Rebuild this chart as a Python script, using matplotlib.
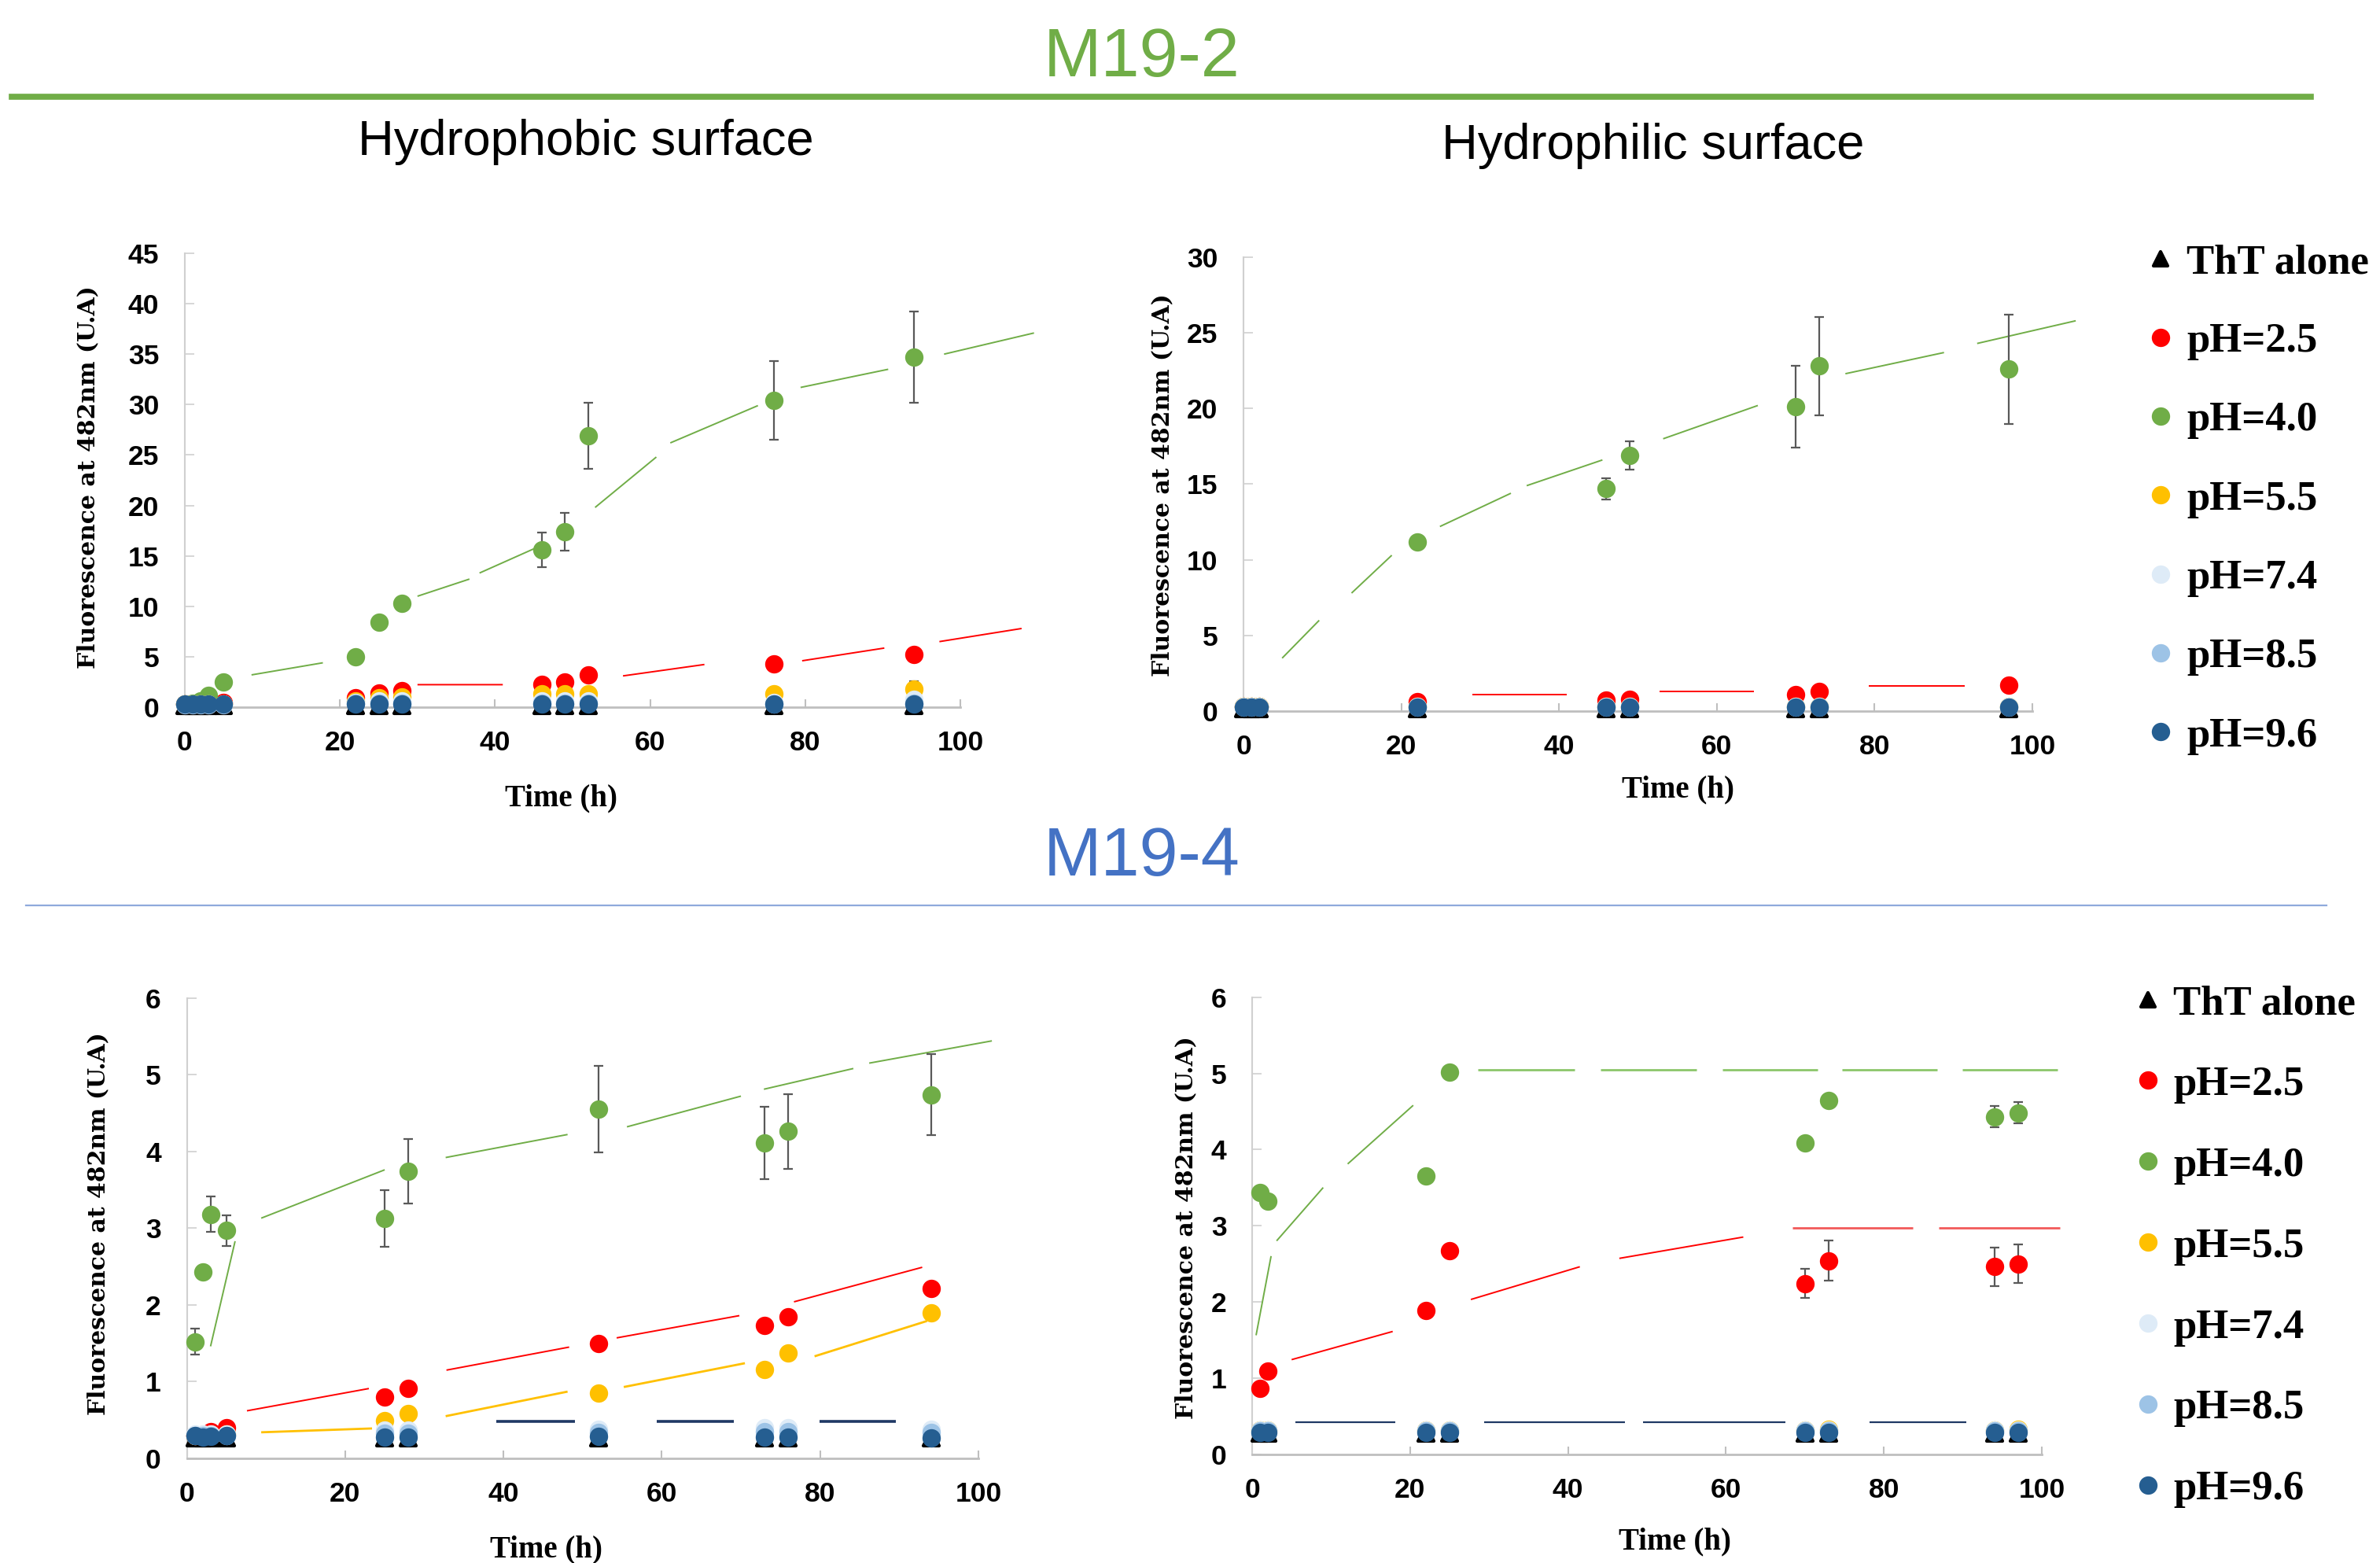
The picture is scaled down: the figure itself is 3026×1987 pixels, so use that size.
import numpy as np
import matplotlib
matplotlib.use('Agg')
from matplotlib import pyplot as plt
from matplotlib.lines import Line2D
from matplotlib.markers import MarkerStyle

nan = np.nan

labels = ['ThT alone', 'pH=2.5', 'pH=4.0', 'pH=5.5', 'pH=7.4', 'pH=8.5', 'pH=9.6']
colors = ['#000000', '#FF0000', '#70AD47', '#FFC000', '#DEEBF7', '#9DC3E6', '#255E91']

# ---- M19-2, hydrophobic surface ----
t_a = [0, 1, 2, 3, 5, 22, 25, 28, 46, 49, 52, 76, 94]
tht_a = [0.15, 0.15, 0.15, 0.15, 0.15, 0.15, 0.15, 0.15, 0.15, 0.15, 0.15, 0.15, 0.15]
ph25_a = [0.3, 0.3, 0.3, 0.4, 0.5, 0.9, 1.4, 1.6, 2.3, 2.5, 3.2, 4.3, 5.2]
ph40_a = [0.3, 0.4, 0.6, 1.2, 2.5, 5.0, 8.4, 10.3, 15.6, 17.4, 26.9, 30.4, 34.7]
ph55_a = [0.3, 0.3, 0.3, 0.3, 0.3, 0.65, 0.9, 1.0, 1.3, 1.3, 1.3, 1.3, 1.8]
ph74_a = [0.3, 0.3, 0.3, 0.3, 0.3, 0.5, 0.6, 0.6, 0.6, 0.6, 0.6, 0.5, 0.8]
ph85_a = [0.25, 0.25, 0.25, 0.25, 0.25, 0.4, 0.4, 0.4, 0.4, 0.4, 0.4, 0.3, 0.4]
ph96_a = [0.3, 0.3, 0.3, 0.3, 0.3, 0.3, 0.3, 0.3, 0.3, 0.3, 0.3, 0.3, 0.3]
err40_a = [0, 0, 0, 0, 0, 0, 0, 0, 1.7, 1.9, 3.3, 3.9, 4.5]
err55_a = [0, 0, 0, 0, 0, 0, 0, 0, 0, 0, 0, 0, 0.8]
trg_x_a = [8.6, 17.8, nan, 30.0, 36.7, nan, 38.0, 45.0, nan, 52.9, 60.8, nan,
           62.6, 73.9, nan, 79.4, 90.7, nan, 97.9, 109.5]
trg_y_a = [3.2, 4.4, nan, 11.0, 12.7, nan, 13.3, 15.7, nan, 19.8, 24.8, nan,
           26.2, 29.9, nan, 31.7, 33.5, nan, 35.0, 37.1]
trr_x_a = [30.0, 41.0, nan, 56.5, 67.0, nan, 79.6, 90.2, nan, 97.3, 107.9]
trr_y_a = [2.23, 2.23, nan, 3.1, 4.23, nan, 4.6, 5.86, nan, 6.5, 7.8]

# ---- M19-2, hydrophilic surface ----
t_b = [0, 1, 2, 22, 46, 49, 70, 73, 97]
tht_b = [0.15, 0.15, 0.15, 0.15, 0.15, 0.15, 0.15, 0.15, 0.15]
ph25_b = [0.3, 0.3, 0.3, 0.6, 0.75, 0.8, 1.1, 1.3, 1.7]
ph40_b = [0.3, 0.3, 0.3, 11.2, 14.7, 16.9, 20.1, 22.8, 22.6]
ph55_b = [0.3, 0.3, 0.3, 0.3, 0.3, 0.3, 0.3, 0.3, 0.3]
ph74_b = [0.3, 0.3, 0.3, 0.3, 0.3, 0.3, 0.3, 0.3, 0.3]
ph85_b = [0.28, 0.28, 0.28, 0.28, 0.28, 0.28, 0.28, 0.28, 0.28]
ph96_b = [0.25, 0.25, 0.25, 0.25, 0.25, 0.25, 0.25, 0.25, 0.25]
err40_b = [0, 0, 0, 0, 0.7, 0.95, 2.7, 3.25, 3.6]
trg_x_b = [4.9, 9.6, nan, 13.7, 18.8, nan, 24.9, 33.9, nan, 35.9, 45.5, nan,
           53.2, 65.2, nan, 76.3, 88.8, nan, 93.0, 105.5]
trg_y_b = [3.5, 6.0, nan, 7.8, 10.3, nan, 12.2, 14.4, nan, 14.9, 16.6, nan,
           18.0, 20.2, nan, 22.3, 23.7, nan, 24.3, 25.8]
trr_x_b = [29.0, 41.0, nan, 52.7, 64.7, nan, 79.3, 91.4]
trr_y_b = [1.08, 1.08, nan, 1.3, 1.3, nan, 1.64, 1.64]

# ---- M19-4, hydrophobic surface ----
t_c = [1, 2, 3, 5, 25, 28, 52, 73, 76, 94]
tht_c = [0.27, 0.27, 0.27, 0.27, 0.27, 0.27, 0.27, 0.27, 0.27, 0.27]
ph25_c = [0.3, 0.3, 0.35, 0.4, 0.8, 0.91, 1.5, 1.73, 1.85, 2.21]
ph40_c = [1.52, 2.43, 3.18, 2.97, 3.13, 3.74, 4.55, 4.11, 4.26, 4.74]
ph55_c = [0.3, 0.3, 0.3, 0.32, 0.49, 0.58, 0.85, 1.16, 1.37, 1.9]
ph74_c = [0.32, 0.32, 0.32, 0.32, 0.37, 0.37, 0.38, 0.4, 0.4, 0.38]
ph85_c = [0.3, 0.3, 0.3, 0.3, 0.33, 0.33, 0.34, 0.35, 0.35, 0.34]
ph96_c = [0.3, 0.28, 0.29, 0.3, 0.28, 0.28, 0.29, 0.28, 0.28, 0.27]
err40_c = [0.17, 0, 0.23, 0.2, 0.37, 0.42, 0.56, 0.47, 0.49, 0.53]
trg_x_c = [3.0, 6.1, nan, 9.4, 25.0, nan, 32.7, 48.1, nan, 55.6, 70.0, nan,
           72.9, 84.2, nan, 86.2, 101.7]
trg_y_c = [1.46, 2.83, nan, 3.13, 3.76, nan, 3.92, 4.22, nan, 4.32, 4.72, nan,
           4.81, 5.08, nan, 5.15, 5.44]
trr_x_c = [7.6, 23.0, nan, 32.8, 48.3, nan, 54.3, 69.8, nan, 76.7, 92.9]
trr_y_c = [0.62, 0.91, nan, 1.15, 1.45, nan, 1.57, 1.86, nan, 2.04, 2.49]
tryl_x_c = [9.4, 23.4, nan, 32.7, 48.1, nan, 55.2, 70.5, nan, 79.3, 93.5]
tryl_y_c = [0.34, 0.39, nan, 0.55, 0.87, nan, 0.93, 1.24, nan, 1.33, 1.79]
trb_x_c = [39.1, 49.0, nan, 59.4, 69.1, nan, 79.9, 89.6]
trb_y_c = [0.48, 0.48, nan, 0.48, 0.48, nan, 0.48, 0.48]

# ---- M19-4, hydrophilic surface ----
t_d = [1, 2, 22, 25, 70, 73, 94, 97]
tht_d = [0.27, 0.27, 0.27, 0.27, 0.27, 0.27, 0.27, 0.27]
ph25_d = [0.86, 1.09, 1.89, 2.67, 2.24, 2.54, 2.46, 2.50]
ph40_d = [3.43, 3.32, 3.65, 5.02, 4.09, 4.64, 4.43, 4.48]
ph55_d = [0.32, 0.32, 0.32, 0.32, 0.32, 0.33, 0.32, 0.33]
ph74_d = [0.32, 0.32, 0.32, 0.32, 0.32, 0.32, 0.32, 0.32]
ph85_d = [0.3, 0.3, 0.3, 0.3, 0.3, 0.3, 0.3, 0.3]
ph96_d = [0.28, 0.28, 0.28, 0.28, 0.28, 0.28, 0.28, 0.28]
err25_d = [0, 0, 0, 0, 0.19, 0.26, 0.25, 0.25]
err40_d = [0, 0, 0, 0, 0, 0, 0.14, 0.14]
trg_x_d = [0.5, 2.4, nan, 3.1, 9.0, nan, 12.1, 20.4]
trg_y_d = [1.56, 2.6, nan, 2.8, 3.5, nan, 3.81, 4.58]
trg2_x_d = [28.6, 40.8, nan, 44.1, 56.3, nan, 59.6, 71.6, nan, 74.7, 86.8, nan, 89.9, 102.0]
trg2_y_d = [5.05, 5.05, nan, 5.05, 5.05, nan, 5.05, 5.05, nan, 5.05, 5.05, nan, 5.05, 5.05]
trr_x_d = [5.0, 17.8, nan, 27.7, 41.5, nan, 46.5, 62.2]
trr_y_d = [1.24, 1.61, nan, 2.03, 2.46, nan, 2.57, 2.85]
trr2_x_d = [68.4, 83.7, nan, 87.0, 102.3]
trr2_y_d = [2.97, 2.97, nan, 2.97, 2.97]
trb_x_d = [5.5, 18.1, nan, 29.4, 47.2, nan, 49.5, 67.5, nan, 78.2, 90.4]
trb_y_d = [0.42, 0.42, nan, 0.42, 0.42, nan, 0.42, 0.42, nan, 0.42, 0.42]

tri = MarkerStyle('^', joinstyle='round')
markers = [tri, 'o', 'o', 'o', 'o', 'o', 'o']

fig = plt.figure(figsize=(30.26, 19.87), dpi=100)


def draw_panel(rect, t, series, errs, trends, ymax, ystep, xlab_pos, ylab_pos):
    ax = fig.add_axes(rect)
    for (x, y, c, lw) in trends:
        ax.plot(x, y, color=c, lw=lw, zorder=2, clip_on=False, solid_capstyle='butt')
    for idx, err in errs:
        y = np.array(series[idx], dtype=float)
        e = np.array(err, dtype=float)
        keep = e > 0
        ax.errorbar(np.array(t)[keep], y[keep], yerr=e[keep], fmt='none', ecolor='#595959',
                    elinewidth=1.6, capsize=4, capthick=1.6, zorder=2.5, clip_on=False)
    for i, y in enumerate(series):
        if i == 0:
            ax.plot(t, y, ls='none', marker=tri, ms=14, mew=3, color=colors[0],
                    zorder=3, clip_on=False)
        else:
            ax.plot(t, y, ls='none', marker='o', ms=16.8, color=colors[i],
                    mec='none', zorder=3 + i * 0.1, clip_on=False)
    ax.set_xlim(0, 100)
    ax.set_ylim(0, ymax)
    ax.set_xticks(np.arange(0, 101, 20))
    ax.set_yticks(np.arange(0, ymax + 0.01, ystep))
    ax.set_yticklabels([str(int(v)) for v in np.arange(0, ymax + 0.01, ystep)])
    for s in ['top', 'right']:
        ax.spines[s].set_visible(False)
    ax.spines['left'].set_color('#D0D0D0')
    ax.spines['left'].set_linewidth(1.5)
    ax.spines['bottom'].set_color('#BFBFBF')
    ax.spines['bottom'].set_linewidth(2.0)
    ax.tick_params(axis='x', direction='in', length=7.5, width=1.5, color='#BFBFBF', pad=21)
    ax.tick_params(axis='y', direction='in', length=8.5, width=1.2, color='#D0D0D0', pad=23.5)
    for lab in ax.get_xticklabels() + ax.get_yticklabels():
        lab.set_fontfamily('Liberation Sans')
        lab.set_fontweight('bold')
        lab.set_fontsize(25.5)
    ax.set_xlabel('Time (h)', fontfamily='Liberation Serif', fontweight='bold', fontsize=28,
                  va='baseline')
    ax.xaxis.set_label_coords(*xlab_pos)
    ax.set_ylabel('Fluorescence at 482nm (U.A)', fontfamily='DejaVu Serif', fontweight='bold',
                  fontsize=21.5, va='center', ha='center')
    ax.yaxis.set_label_coords(*ylab_pos)
    return ax


W, H = 3026, 1987


def rect(x0, x1, y0, y1):
    # pixel box of the plotting area -> figure fraction
    return [x0 / W, 1 - y0 / H, (x1 - x0) / W, (y0 - y1) / H]


draw_panel(rect(235, 1221, 899, 322), t_a,
           [tht_a, ph25_a, ph40_a, ph55_a, ph74_a, ph85_a, ph96_a],
           [(2, err40_a), (3, err55_a)],
           [(trg_x_a, trg_y_a, '#70AD47', 1.4), (trr_x_a, trr_y_a, '#FF0000', 1.4)],
           45, 5, (0.4858, -0.2166), (-0.125, 0.5066))

draw_panel(rect(1581, 2584, 904, 327), t_b,
           [tht_b, ph25_b, ph40_b, ph55_b, ph74_b, ph85_b, ph96_b],
           [(2, err40_b)],
           [(trg_x_b, trg_y_b, '#70AD47', 1.4), (trr_x_b, trr_y_b, '#FF0000', 1.4)],
           30, 5, (0.5509, -0.1889), (-0.1027, 0.4974))

draw_panel(rect(237.5, 1244, 1854, 1268.6), t_c,
           [tht_c, ph25_c, ph40_c, ph55_c, ph74_c, ph85_c, ph96_c],
           [(2, err40_c)],
           [(trg_x_c, trg_y_c, '#70AD47', 1.4), (trr_x_c, trr_y_c, '#FF0000', 1.4),
            (tryl_x_c, tryl_y_c, '#FFC000', 2.0), (trb_x_c, trb_y_c, '#1F3864', 2.6)],
           6, 1, (0.4538, -0.215), (-0.1118, 0.5098))

draw_panel(rect(1592, 2596, 1848.5, 1267.7), t_d,
           [tht_d, ph25_d, ph40_d, ph55_d, ph74_d, ph85_d, ph96_d],
           [(1, err25_d), (2, err40_d)],
           [(trg_x_d, trg_y_d, '#70AD47', 1.4), (trg2_x_d, trg2_y_d, '#8CC66A', 2.0),
            (trr_x_d, trr_y_d, '#FF0000', 1.4), (trr2_x_d, trr2_y_d, '#F25A5A', 2.0),
            (trb_x_d, trb_y_d, '#1F3864', 1.6)],
           6, 1, (0.5349, -0.2074), (-0.0837, 0.4966))

# section headers and rules
fig.text(1452 / W, 1 - 96.7 / H, 'M19-2', color='#70AD47', fontsize=63.5,
         fontfamily='Liberation Sans', ha='center', va='baseline')
fig.add_artist(Line2D([15 / W, 2938 / W], [1 - 122.8 / H] * 2, transform=fig.transFigure,
                      color='#70AD47', lw=5.5))
fig.text(745 / W, 1 - 196.7 / H, 'Hydrophobic surface', fontsize=45.5,
         fontfamily='Liberation Sans', ha='center', va='baseline')
fig.text(2102 / W, 1 - 201.7 / H, 'Hydrophilic surface', fontsize=45.5,
         fontfamily='Liberation Sans', ha='center', va='baseline')
fig.text(1452 / W, 1 - 1113.3 / H, 'M19-4', color='#4472C4', fontsize=63.5,
         fontfamily='Liberation Sans', ha='center', va='baseline')
fig.add_artist(Line2D([33 / W, 2958 / W], [1 - 1151 / H] * 2, transform=fig.transFigure,
                      color='#8FAADC', lw=1.6))

# legends
handles = [Line2D([], [], ls='none', marker=tri, ms=13, mew=3, color=colors[0])]
handles += [Line2D([], [], ls='none', marker='o', ms=16.8, color=c, mec='none')
            for c in colors[1:]]
leg_font = {'family': 'Liberation Serif', 'weight': 'bold', 'size': 38}
fig.legend(handles, labels, loc='upper left', bbox_to_anchor=(2734 / W, 1 - 310 / H),
           frameon=False, prop=leg_font, handlelength=0.48, handletextpad=0.39,
           labelspacing=0.99, borderpad=0, borderaxespad=0)
fig.legend(handles, labels, loc='upper left', bbox_to_anchor=(2718 / W, 1 - 1252 / H),
           frameon=False, prop=leg_font, handlelength=0.48, handletextpad=0.38,
           labelspacing=1.04, borderpad=0, borderaxespad=0)

plt.savefig('out.png', dpi=100)
